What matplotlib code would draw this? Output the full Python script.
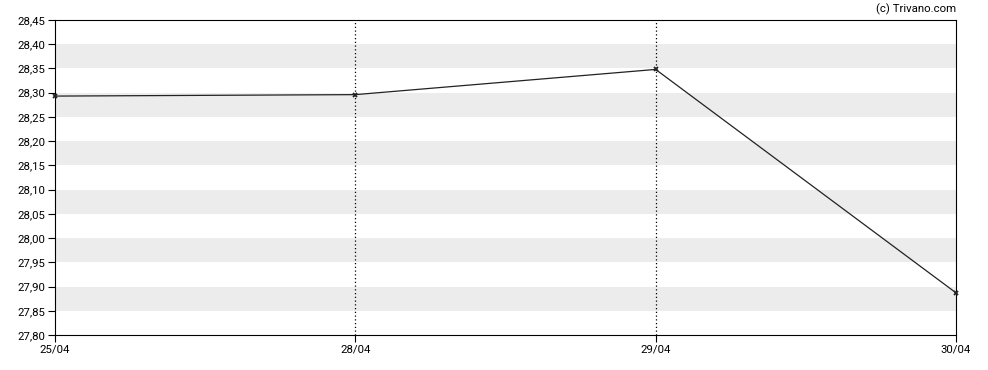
import matplotlib
matplotlib.use('Agg')
import matplotlib.pyplot as plt
from matplotlib.ticker import FuncFormatter

# Data
dates = ['25/04', '28/04', '29/04', '30/04']
prices = [28.293, 28.296, 28.348, 27.887]
y_ticks = [27.80, 27.85, 27.90, 27.95, 28.00, 28.05, 28.10, 28.15,
           28.20, 28.25, 28.30, 28.35, 28.40, 28.45]

plt.rcParams['font.family'] = ['Roboto', 'DejaVu Sans']

fig = plt.figure(figsize=(9.88, 3.70), dpi=100)
ax = fig.add_axes([55 / 988, 35 / 370, 901 / 988, 315 / 370])

x = list(range(len(dates)))

# Alternating grey bands
for i in range(len(y_ticks) - 1):
    if i % 2 == 1:
        ax.axhspan(y_ticks[i], y_ticks[i + 1], color='#ececec', lw=0, zorder=0)

# Dotted vertical lines at inner dates
for xi in x[1:-1]:
    ax.axvline(xi, color='black', lw=0.9, ls=(0, (1, 2)), zorder=1)

ax.plot(x, prices, color='#222222', lw=0.9, marker='x', ms=3.5, mew=1.3,
        mec='#222222', zorder=3, clip_on=False)

ax.set_xlim(0, len(dates) - 1)
ax.set_ylim(y_ticks[0], y_ticks[-1])
ax.set_xticks(x)
ax.set_xticklabels(dates)
ax.set_yticks(y_ticks)
ax.yaxis.set_major_formatter(FuncFormatter(lambda v, p: f'{v:.2f}'.replace('.', ',')))

ax.tick_params(axis='both', labelsize=8.2, length=5, width=0.8, color='black', pad=2)
for s in ax.spines.values():
    s.set_linewidth(0.8)

fig.text(956 / 988, 1 - 9 / 370, '(c) Trivano.com', ha='right', va='center', fontsize=8.2)

fig.savefig('out.png', dpi=100)
